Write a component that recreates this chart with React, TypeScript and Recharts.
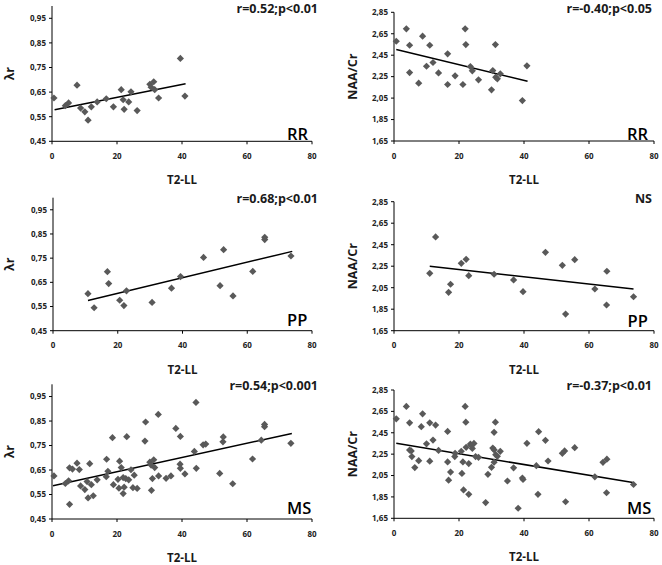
import React from 'react';
import { ScatterChart, Scatter, XAxis, YAxis, ReferenceLine, Label } from 'recharts';

// ---- axis ticks ----
const xTicks = [0, 20, 40, 60, 80];
const lambdaTicks = [0.45, 0.55, 0.65, 0.75, 0.85, 0.95];
const naaTicks = [1.65, 1.85, 2.05, 2.25, 2.45, 2.65, 2.85];

// ---- RR (relapsing-remitting) ----
const rrLambda: [number, number][] = [
  [0.6, 0.626], [4.1, 0.595], [5.1, 0.606], [7.7, 0.678], [8.8, 0.585], [10.1, 0.57],
  [11.1, 0.536], [12.1, 0.59], [13.9, 0.61], [16.7, 0.623], [18.9, 0.59], [21.3, 0.66],
  [21.9, 0.619], [22.2, 0.58], [23.6, 0.61], [24.3, 0.651], [26.2, 0.575], [30.1, 0.682],
  [31.3, 0.692], [31.6, 0.66], [30.5, 0.67], [32.8, 0.626], [39.5, 0.787], [40.9, 0.634],
];
const rrNaa: [number, number][] = [
  [0.7, 2.58], [3.8, 2.696], [4.8, 2.543], [4.8, 2.288], [7.6, 2.189], [8.8, 2.627],
  [10.0, 2.347], [11.0, 2.543], [12.0, 2.382], [13.7, 2.285], [16.5, 2.463], [16.5, 2.177],
  [18.8, 2.258], [21.2, 2.177], [21.9, 2.696], [22.1, 2.549], [23.5, 2.344], [24.1, 2.304],
  [26.0, 2.22], [30.0, 2.127], [30.4, 2.307], [31.2, 2.549], [31.3, 2.245], [31.8, 2.23],
  [32.7, 2.276], [39.5, 2.027], [40.9, 2.351],
];

// ---- PP (primary progressive) ----
const ppLambda: [number, number][] = [
  [10.8, 0.603], [12.7, 0.545], [16.8, 0.694], [17.2, 0.645], [20.6, 0.576], [21.9, 0.554],
  [22.7, 0.615], [30.6, 0.567], [36.6, 0.626], [39.4, 0.674], [46.5, 0.753], [51.6, 0.636],
  [52.7, 0.785], [55.6, 0.594], [61.7, 0.695], [65.4, 0.836], [65.4, 0.827], [73.5, 0.759],
];
const ppNaa: [number, number][] = [
  [11.0, 2.184], [12.8, 2.522], [16.8, 2.007], [17.4, 2.082], [20.7, 2.277], [22.2, 2.314],
  [23.0, 2.162], [30.8, 2.175], [36.8, 2.122], [39.7, 2.013], [46.6, 2.379], [51.8, 2.258],
  [52.8, 1.805], [55.6, 2.311], [61.8, 2.038], [65.5, 2.203], [65.4, 1.889], [73.7, 1.966],
];

// ---- other MS patients (only in the MS panels) ----
const otherLambda: [number, number][] = [
  [5.4, 0.51], [5.4, 0.659], [6.3, 0.654], [8.4, 0.652], [11.6, 0.676], [18.6, 0.782],
  [20.3, 0.612], [20.8, 0.686], [23.0, 0.786], [24.9, 0.578], [25.3, 0.629], [28.6, 0.768],
  [28.8, 0.846], [30.9, 0.615], [32.7, 0.877], [35.1, 0.616], [38.1, 0.82], [39.5, 0.657],
  [43.8, 0.726], [44.3, 0.926], [44.4, 0.657], [47.3, 0.756], [52.6, 0.765], [64.4, 0.772],
];
const otherNaa: [number, number][] = [
  [5.3, 2.28], [5.5, 2.227], [6.4, 2.124], [8.4, 2.507], [18.7, 2.227], [20.9, 2.07],
  [21.4, 1.915], [23.0, 1.874], [23.8, 2.33], [24.6, 2.35], [25.1, 2.227], [28.2, 1.797],
  [28.9, 2.061], [30.8, 2.29], [30.8, 2.454], [34.9, 1.999], [38.2, 1.744], [43.8, 2.142],
  [44.3, 1.874], [44.5, 2.46], [47.4, 2.186], [52.5, 2.28], [64.3, 2.174],
];
const msLambda = [...rrLambda, ...ppLambda, ...otherLambda];
const msNaa = [...rrNaa, ...ppNaa, ...otherNaa];

// ---- trend line end points ----
const rrLambdaTrend: [number, number][] = [[0.8, 0.578], [41.1, 0.684]];
const rrNaaTrend: [number, number][] = [[0.7, 2.503], [41.1, 2.207]];
const ppLambdaTrend: [number, number][] = [[10.8, 0.575], [73.9, 0.778]];
const ppNaaTrend: [number, number][] = [[11.0, 2.249], [73.7, 2.038]];
const msLambdaTrend: [number, number][] = [[0.3, 0.586], [73.8, 0.799]];
const msNaaTrend: [number, number][] = [[0.7, 2.351], [73.5, 1.984]];

const toPts = (a: [number, number][]) => a.map(([x, y]) => ({ x, y }));

const FONT = '"Open Sans", "DejaVu Sans", sans-serif';
const MARK = '#595959';

const Diamond = (props: any) => {
  const { cx, cy } = props;
  if (cx == null || cy == null) return null;
  const r = 3.6;
  return (
    <polygon
      points={`${cx},${cy - r} ${cx + r},${cy} ${cx},${cy + r} ${cx - r},${cy}`}
      fill={MARK}
    />
  );
};

const fmt = (v: number) => v.toFixed(2).replace('.', ',');

type PanelProps = {
  left: number;
  top: number;
  marginTop: number;
  marginRight: number;
  yAxisWidth: number;
  xAxisHeight: number;
  data: [number, number][];
  trend: [number, number][];
  yDomain: [number, number];
  yTicks: number[];
  yLabel: string;
  yLabelOffset: number;
};

const W = 331;
const H = 190;

function Panel(p: PanelProps) {
  const seg = toPts(p.trend);
  return (
    <div style={{ position: 'absolute', left: p.left, top: p.top }}>
      <ScatterChart
        width={W}
        height={H}
        margin={{ top: p.marginTop, right: p.marginRight, bottom: 0, left: 0 }}
      >
        <XAxis
          type="number"
          dataKey="x"
          domain={[0, 80]}
          ticks={xTicks}
          height={p.xAxisHeight}
          tickSize={3}
          tickMargin={9}
          axisLine={{ stroke: '#000', strokeWidth: 1 }}
          tickLine={{ stroke: '#000' }}
          tick={{ fontSize: 8, fontWeight: 700, fill: '#222', fontFamily: FONT }}
        >
          <Label
            value="T2-LL"
            position="insideBottom"
            offset={p.xAxisHeight - 43}
            fontSize={11.5}
            fontWeight={700}
            fill="#1a1a1a"
            fontFamily={FONT}
          />
        </XAxis>
        <YAxis
          type="number"
          dataKey="y"
          domain={p.yDomain}
          ticks={p.yTicks}
          width={p.yAxisWidth}
          tickSize={3}
          tickMargin={3}
          tickFormatter={fmt}
          axisLine={{ stroke: '#000', strokeWidth: 1 }}
          tickLine={{ stroke: '#000' }}
          tick={{ fontSize: 8, fontWeight: 700, fill: '#222', fontFamily: FONT }}
        >
          <Label
            value={p.yLabel}
            angle={-90}
            position="insideLeft"
            offset={p.yLabelOffset}
            fontSize={12.5}
            fontWeight={700}
            fill="#1a1a1a"
            fontFamily={FONT}
            style={{ textAnchor: 'middle' }}
          />
        </YAxis>
        <Scatter data={toPts(p.data)} fill={MARK} shape={Diamond} isAnimationActive={false} />
        <ReferenceLine segment={seg as any} stroke="#000" strokeWidth={1.5} />
      </ScatterChart>
    </div>
  );
}

const annotations = [
  { text: 'r=0.52;p<0.01', x: 318, y: 12.5 },
  { text: 'r=-0.40;p<0.05', x: 652, y: 12.8 },
  { text: 'r=0.68;p<0.01', x: 318, y: 202.6 },
  { text: 'NS', x: 652, y: 202.6 },
  { text: 'r=0.54;p<0.001', x: 318, y: 390.3 },
  { text: 'r=-0.37;p<0.01', x: 652, y: 390.3 },
];
const groups = [
  { text: 'RR', x: 287, y: 140 },
  { text: 'RR', x: 627, y: 140 },
  { text: 'PP', x: 287, y: 325.5 },
  { text: 'PP', x: 627.5, y: 326.5 },
  { text: 'MS', x: 287, y: 514.3 },
  { text: 'MS', x: 627, y: 514.3 },
];

export default function App() {
  return (
    <div
      style={{
        position: 'absolute',
        left: 0,
        top: 0,
        width: 662,
        height: 565,
        overflow: 'hidden',
        background: '#fff',
      }}
    >
      <Panel left={0} top={0} marginTop={6} marginRight={19} yAxisWidth={52} xAxisHeight={48.7}
        data={rrLambda} trend={rrLambdaTrend} yDomain={[0.45, 1.0]} yTicks={lambdaTicks} yLabel="λr" yLabelOffset={10} />
      <Panel left={331} top={0} marginTop={12.3} marginRight={8} yAxisWidth={63} xAxisHeight={49}
        data={rrNaa} trend={rrNaaTrend} yDomain={[1.65, 2.85]} yTicks={naaTicks} yLabel="NAA/Cr" yLabelOffset={21.5} />
      <Panel left={0} top={188} marginTop={9.7} marginRight={19} yAxisWidth={53} xAxisHeight={47.3}
        data={ppLambda} trend={ppLambdaTrend} yDomain={[0.45, 1.0]} yTicks={lambdaTicks} yLabel="λr" yLabelOffset={10} />
      <Panel left={331} top={188} marginTop={13.7} marginRight={8} yAxisWidth={63} xAxisHeight={47.3}
        data={ppNaa} trend={ppNaaTrend} yDomain={[1.65, 2.85]} yTicks={naaTicks} yLabel="NAA/Cr" yLabelOffset={21.5} />
      <Panel left={0} top={376} marginTop={8.3} marginRight={19} yAxisWidth={52} xAxisHeight={47}
        data={msLambda} trend={msLambdaTrend} yDomain={[0.45, 1.0]} yTicks={lambdaTicks} yLabel="λr" yLabelOffset={10} />
      <Panel left={331} top={376} marginTop={14} marginRight={8} yAxisWidth={63} xAxisHeight={47.7}
        data={msNaa} trend={msNaaTrend} yDomain={[1.65, 2.85]} yTicks={naaTicks} yLabel="NAA/Cr" yLabelOffset={21.5} />
      <svg
        width={662}
        height={565}
        style={{ position: 'absolute', left: 0, top: 0, pointerEvents: 'none' }}
      >
        {annotations.map((a, i) => (
          <text key={'a' + i} x={a.x} y={a.y} textAnchor="end" fontFamily={FONT} fontWeight={700}
            fontSize={12.5} fill="#1a1a1a">
            {a.text}
          </text>
        ))}
        {groups.map((g, i) => (
          <text key={'g' + i} x={g.x} y={g.y} textAnchor="start" fontFamily={FONT} fontWeight={600}
            fontSize={16.5} fill="#000">
            {g.text}
          </text>
        ))}
      </svg>
    </div>
  );
}
